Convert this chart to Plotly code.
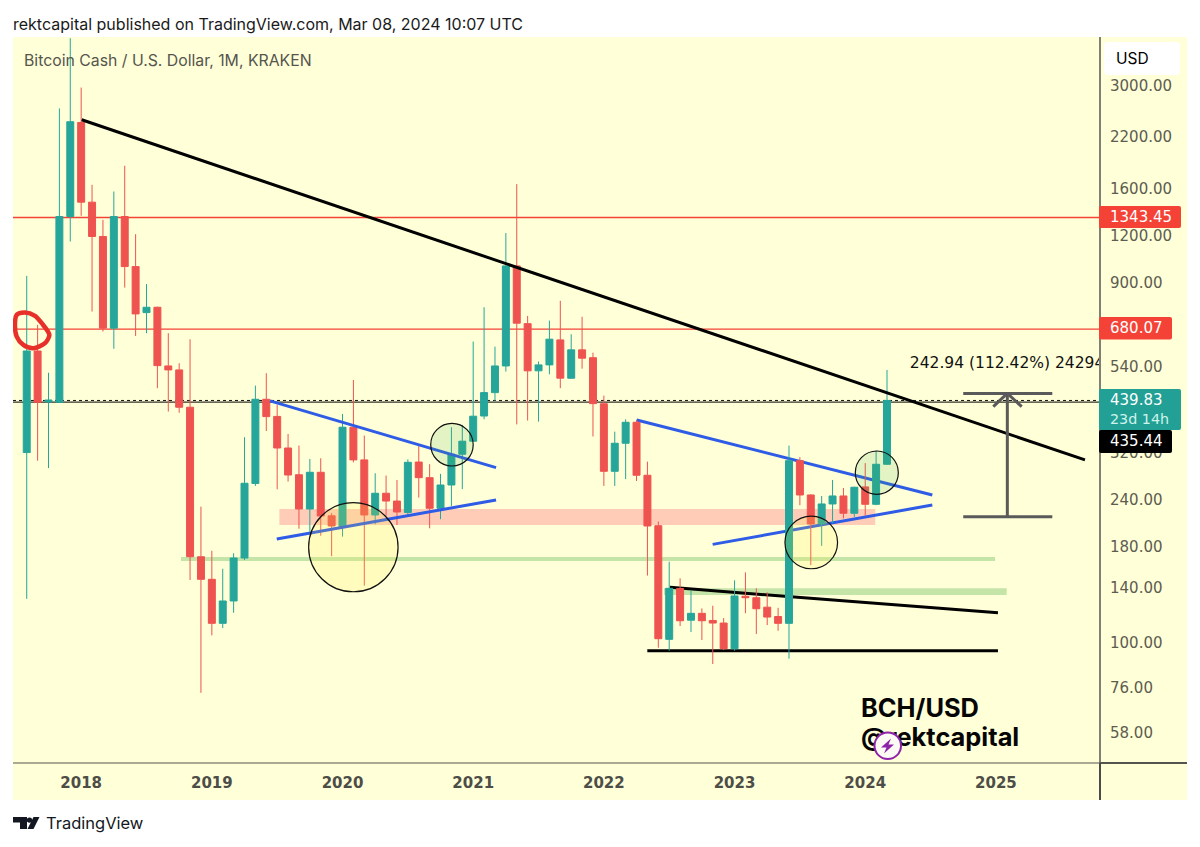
import plotly.graph_objects as go
import pandas as pd

# ---------- data ----------
months = [d.strftime("%b %Y") for d in pd.date_range("2017-08-01", "2024-03-01", freq="MS")]
opens = [320,595,436,435,1352,2401,1476,1197,684,1352,996,752,777,543,530,422,169.4,147.6,112.8,129.3,168.1,265,443,399,329,279.5,226.7,283.7,217.5,203,373.5,306,218.6,249.6,238,222,302,274.5,227.7,262.5,316.7,343,400,461.4,543,1000,703,527,546.5,636.6,503.8,599,571,431,285.4,338.7,385,278.6,204.7,102.3,139.5,115,119.9,114.8,113,96.6,133.1,131.9,124.5,117.6,112.8,304.5,247,206.9,233.8,245.5,220.9,259.5,233.3,297.9]
highs = [941,698,521,2616,4015,2971,1641,1325,1575,1843,1214,895,780,663,552,639,230,175.7,157.4,173,351.4,481.5,519.5,428,358.5,334,307.7,309,221,405,498.6,355,282,278,270.7,307,337,298,281,373.5,379,630,777,611,1222,1648,737,558,716,808,659,733,589,453,363.6,392,390.5,302.7,210,164.3,148.5,138.2,123.6,125.6,116.5,146.7,154,139.7,136.3,124,333.8,311,248,245.5,270.7,257.8,259.8,300,323.7,530]
lows = [131,304.5,291,433,1161,1358,757,670,603,876,652,663,474,411,408,147,73.8,104.8,109.6,120.3,166,261,365,255.7,268,201,197.4,192.6,170,191.5,301.5,142,206.5,217.7,205.6,217,243,201.5,213,231,256,341,392,439,524.6,380,389,386.5,516,474,502,534,353,261,261,272,269,151,97.2,95.4,111,107,101.9,88,95.8,95.4,120,105.7,111.6,107.8,90.9,232,161,181,207.8,214,216,217.7,232,297]
closes = [595,435,441,1352,2412,1476,1197,684,1352,996,746,777,544,530,422,169.4,147.6,112.8,129.3,168.1,265.3,443,398.5,329,279,226.7,283.7,217.2,204.4,373.5,306,218.6,249.6,238,222.6,301.5,274.5,227.7,262.5,316.7,343,399.5,461.4,543,1000,705,527,546.5,639.4,504,599,569.3,431.4,285.4,338.7,385,278.6,204.4,102.7,139.7,114.6,119.9,114.6,113,96.6,133.3,131.9,123.3,117.2,112.8,304.5,247,206.9,233.8,245.5,220.9,258.9,233.3,297.9,439.83]

year_labels = ["2018","2019","2020","2021","2022","2023","2024","2025"]
year_positions = [5,17,29,41,53,65,77,89]
price_ticks = [58,76,100,140,180,240,320,540,900,1200,1600,2200,3000]

levels_red = [1343.45, 680.07]
last_price = 439.83
prev_level = 435.44

# drawings: (index, price) endpoints
main_trend = ([5.05, 97.18], [2441, 305.9])
blue_lines = [([22.34, 43.1], [438.6, 291.8]),
              ([22.96, 43.1], [188.8, 239.55])]
blue_lines_late = [([56.01, 83.16], [390.5, 247]),
                   ([62.99, 83.16], [182.7, 232.3])]
black_lines = [([59.07, 89.19], [140.5, 120.3]),
               ([56.99, 89.19], [95.4, 95.4])]
zones = [([23.2, 77.92], [205.6, 226.7], "rgba(255,130,136,0.40)"),
         ([14.17, 88.92], [165, 169.1], "rgba(139,203,120,0.50)"),
         ([58.52, 89.99], [134.1, 139.7], "rgba(139,203,120,0.50)")]
circles = [([25.89, 34.1], [136.8, 235.6], "rgba(255,235,59,0.17)"),
           ([37.1, 41.0], [294.8, 382.5], "rgba(76,175,80,0.15)"),
           ([69.63, 74.46], [157.4, 217], "rgba(255,235,59,0.17)"),
           ([76.09, 80.04], [247.9, 323.1], "rgba(76,175,80,0.15)")]
scribble_x = [-0.92,-0.16,0.76,1.38,2.08,1.68,0.61,-0.31,-0.92,-1.08,-0.92]
scribble_y = [741.7,752.2,737.2,705,656.4,624,605,617.5,649.6,697.7,741.7]
measure_x = [86.0, 90.05, 94.18]
measure_y = [216.1, 459.04]
arrow_x = [88.76, 90.05, 91.37]
arrow_y = [423.6, 459.04, 423.6]

# ---------- colours ----------
UP, DOWN = "#26A69A", "#EF5350"
BG = "#FFFFD8"
BLUE = "#2E5CE6"
GREY = "#5A5A5A"
LEVEL = "#F44336"
TICK = "#5C5C50"
FONT = "Inter"
AXISFONT = "DejaVu Sans"

W, H = 1200, 847
L, R, T, B = 13, 1100, 37, 763
def px(x): return (x - L) / (R - L)
def py(y): return (B - y) / (B - T)

def rrect(x0, y0, x1, y1, r):
    p = lambda x, y: f"{px(x):.5f},{py(y):.5f}"
    return (f"M{p(x0+r,y0)} L{p(x1-r,y0)} Q{p(x1,y0)} {p(x1,y0+r)} L{p(x1,y1-r)} Q{p(x1,y1)} {p(x1-r,y1)} "
            f"L{p(x0+r,y1)} Q{p(x0,y1)} {p(x0,y1-r)} L{p(x0,y0+r)} Q{p(x0,y0)} {p(x0+r,y0)} Z")
def poly(points):
    return "M" + " L".join(f"{px(x):.5f},{py(y):.5f}" for x, y in points) + " Z"

idx = list(range(len(opens)))
fig = go.Figure()

fig.add_trace(go.Scatter(x=scribble_x, y=scribble_y, mode="lines", hoverinfo="skip",
                         line=dict(color="#E8302A", width=4.5, shape="spline", smoothing=0.8)))
fig.add_trace(go.Candlestick(
    x=idx, open=opens, high=highs, low=lows, close=closes, text=months,
    increasing=dict(line=dict(color=UP, width=1), fillcolor=UP),
    decreasing=dict(line=dict(color=DOWN, width=1), fillcolor=DOWN),
    whiskerwidth=0))
fig.add_trace(go.Scatter(x=[81.1], y=[549.8], mode="text", text=["242.94 (112.42%) 24294"],
                         textposition="middle right", hoverinfo="skip", cliponaxis=True,
                         textfont=dict(family=AXISFONT, size=15.5, color="#111111")))
fig.add_trace(go.Scatter(x=[76.61, 76.61], y=[66.0, 55.6], mode="text",
                         text=["BCH/USD", "@rektcapital"], textposition="middle right", hoverinfo="skip",
                         textfont=dict(family=FONT, size=25.4, color="#050505", weight=700)))

shapes = []
def data_line(xs, ys, color, width, layer="above", dash="solid"):
    shapes.append(dict(type="line", xref="x", yref="y", x0=xs[0], x1=xs[1], y0=ys[0], y1=ys[1],
                       line=dict(color=color, width=width, dash=dash), layer=layer))
def paper_rect(x0, y0, x1, y1, color, layer="above"):
    shapes.append(dict(type="rect", xref="paper", yref="paper", x0=px(x0), x1=px(x1), y0=py(y1), y1=py(y0),
                       fillcolor=color, line=dict(width=0), layer=layer))
def paper_path(path, color, layer="above"):
    shapes.append(dict(type="path", xref="paper", yref="paper", path=path,
                       fillcolor=color, line=dict(width=0), layer=layer))

# chrome background
paper_rect(13, 37, 1187, 800, BG, "below")

# zones and levels
for xs, ys, col in zones:
    shapes.append(dict(type="rect", xref="x", yref="y", x0=xs[0], x1=xs[1], y0=ys[0], y1=ys[1],
                       fillcolor=col, line=dict(width=0), layer="below"))
for lv in levels_red:
    shapes.append(dict(type="line", xref="paper", yref="y", x0=0, x1=1, y0=lv, y1=lv,
                       line=dict(color=LEVEL, width=1.4), layer="below"))
shapes.append(dict(type="line", xref="paper", yref="y", x0=0, x1=1, y0=prev_level, y1=prev_level,
                   line=dict(color="#000000", width=1), layer="below"))
shapes.append(dict(type="line", xref="paper", yref="y", x0=0, x1=1, y0=last_price, y1=last_price,
                   line=dict(color="#111111", width=1, dash="dot"), layer="below"))

for xs, ys in blue_lines_late:
    data_line(xs, ys, BLUE, 3, "below")
for xs, ys in black_lines:
    data_line(xs, ys, "#000000", 3, "below")
for xs, ys in blue_lines:
    data_line(xs, ys, BLUE, 3)
data_line(*main_trend, "#000000", 3)

for xs, ys, col in circles:
    shapes.append(dict(type="circle", xref="x", yref="y", x0=xs[0], x1=xs[1], y0=ys[0], y1=ys[1],
                       fillcolor=col, line=dict(color="#111111", width=1.2), layer="above"))

# measuring tool
for my in measure_y:
    data_line([measure_x[0], measure_x[2]], [my, my], GREY, 3)
data_line([measure_x[1], measure_x[1]], measure_y, GREY, 3)
data_line(arrow_x[:2], arrow_y[:2], GREY, 3)
data_line(arrow_x[1:], arrow_y[1:], GREY, 3)

# axis frame
paper_rect(1099, 37, 1101, 800, "#808078")
paper_rect(13, 762.5, 1100, 763.5, "#555550")
paper_rect(1100, 762, 1187, 764, "#555550")
paper_rect(1099, 763, 1101, 800, "#4A4A48")

# price tags
paper_path(rrect(1104, 42, 1180, 75, 4), "#FFFFFF")
paper_path(rrect(1099, 206, 1181, 228, 2), "#F44336")
paper_path(rrect(1099, 317, 1172, 339.5, 2), "#F44336")
paper_path(rrect(1099, 389, 1181, 430, 2), "#22A095")
paper_path(rrect(1099, 430, 1172, 453, 2), "#000000")

# lightning badge
shapes.append(dict(type="circle", xref="paper", yref="paper", x0=px(874.5), x1=px(901), y0=py(759), y1=py(732.5),
                   fillcolor="#FBFBF4", line=dict(color="#8E24AA", width=2), layer="above"))
paper_path(poly([(891, 738.5), (881, 747.5), (886.5, 747.5), (884, 753.5), (894, 744.5), (888.5, 744.5)]), "#8E24AA")

# TradingView logo
paper_path(poly([(13, 817), (27, 817), (27, 829), (20, 829), (20, 822.5), (13, 822.5)]), "#131722")
shapes.append(dict(type="circle", xref="paper", yref="paper", x0=px(26.8), x1=px(32.2), y0=py(822.8), y1=py(817.4),
                   fillcolor="#131722", line=dict(width=0), layer="above"))
paper_path(poly([(33.5, 817), (39.5, 817), (33.5, 829), (27.5, 829)]), "#131722")

def note(x, y, text, size, color, family=FONT):
    return dict(xref="paper", yref="paper", x=px(x - 2), y=py(y), text=text, showarrow=False, xanchor="left",
                yanchor="middle", align="left", font=dict(family=family, size=size, color=color))

annotations = [
    note(13, 24, "rektcapital published on TradingView.com, Mar 08, 2024 10:07 UTC", 16, "#1A1A1A"),
    note(24, 60, "Bitcoin Cash / U.S. Dollar, 1M, KRAKEN", 15.8, "#55554E"),
    note(1116, 59, "USD", 15.5, "#000000"),
    note(1110, 217, "1343.45", 15, "#FFFFFF", AXISFONT),
    note(1110, 328, "680.07", 15, "#FFFFFF", AXISFONT),
    note(1110, 400, "439.83", 15, "#FFFFFF", AXISFONT),
    note(1110, 419, "23d 14h", 14.3, "#CFF3EC", AXISFONT),
    note(1110, 441, "435.44", 15, "#FFFFFF", AXISFONT),
    note(46, 823, "TradingView", 16.5, "#131722"),
]

fig.update_layout(
    width=W, height=H, margin=dict(l=L, r=W - R, t=T, b=H - B, pad=0),
    paper_bgcolor="#FFFFFF", plot_bgcolor=BG, showlegend=False,
    boxgap=0.36, boxgroupgap=0, hovermode="closest",
    shapes=shapes, annotations=annotations,
    font=dict(family=FONT),
    xaxis=dict(type="linear", range=[-1.26, 98.56], showgrid=False, zeroline=False, showline=False,
               rangeslider=dict(visible=False), tickmode="array", tickvals=year_positions, ticktext=year_labels,
               ticks="", ticklabelstandoff=9, tickangle=0,
               tickfont=dict(family=AXISFONT, size=15, color="#4D4D48", weight=700)),
    yaxis=dict(type="log", range=[1.682, 3.607], side="right", showgrid=False, zeroline=False, showline=False,
               tickmode="array", tickvals=price_ticks, ticktext=[f"{t:.2f}" for t in price_ticks],
               ticks="", ticklabelstandoff=9,
               tickfont=dict(family=AXISFONT, size=15, color=TICK)),
)

fig.write_html("out.html", config=dict(displayModeBar=False),
               post_script="document.body.style.margin='0';document.body.style.overflow='hidden';")
